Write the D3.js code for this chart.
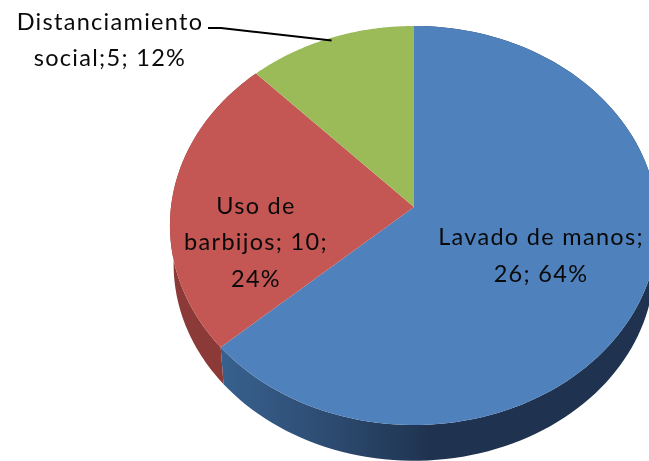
<!DOCTYPE html>
<html><head><meta charset="utf-8">
<script src="https://cdn.jsdelivr.net/npm/d3@7/dist/d3.min.js"></script>
<style>html,body{margin:0;background:#fff;overflow:hidden}svg{display:block;filter:blur(0.45px)}text{font-family:Lato,"Open Sans",sans-serif;font-size:23.5px;letter-spacing:1.3px;fill:#0a0a0a;text-anchor:middle}</style>
</head><body><svg id="c" width="649" height="461"></svg>
<script>
const categories = ["Lavado de manos", "Uso de barbijos", "Distanciamiento social"];
const values = [26, 10, 5];
const percents = ["64%", "24%", "12%"];
const topColors = ["#4F81BD", "#C45653", "#9BBB59"];
const labelLines = [["Lavado de manos;", "26; 64%"], ["Uso de", "barbijos; 10;", "24%"], ["Distanciamiento", "social;5; 12%"]];
const labelPos = [[541, 245], [256, 213.5], [110, 29.5]];

const svg = d3.select("#c");
const cx = 414, cy = 207, depth = 39, k = 0.0927, A = 197.8, B = 243;
const arcs = d3.pie().value(d => d).sort(null)(values);

function proj(a, shrink, dy) {
  const u = Math.sin(a), v = Math.cos(a), w = 1 + k * v;
  return [cx + shrink * B * u / w, cy + dy - shrink * A * v / w];
}
const line = d3.line();
function rim(a0, a1, s, dy) {
  return d3.range(0, 121).map(i => proj(a0 + (a1 - a0) * i / 120, s, dy));
}
const defs = svg.append("defs");
const g1 = defs.append("linearGradient").attr("id", "blueWall").attr("gradientUnits", "userSpaceOnUse")
  .attr("x1", 220).attr("x2", 430).attr("y1", 0).attr("y2", 0);
g1.append("stop").attr("offset", 0).attr("stop-color", "#38618F");
g1.append("stop").attr("offset", 0.55).attr("stop-color", "#2C4A6F");
g1.append("stop").attr("offset", 1).attr("stop-color", "#1F3350");

const s2 = 0.985;
const wallFill = ["url(#blueWall)", "#8C3A38", "#7a9445"];
arcs.forEach((d, i) => {
  const a0 = d.startAngle, a1 = d.endAngle;
  const pts = rim(a0, a1, 1, 0).concat(rim(a0, a1, s2, depth).reverse());
  if (i < 2) svg.append("path").attr("d", line(pts) + "Z").attr("fill", wallFill[i]);
});
arcs.forEach((d, i) => {
  const pts = [proj(0, 0, 0)].concat(rim(d.startAngle, d.endAngle, 1, 0));
  svg.append("path").attr("d", line(pts) + "Z").attr("fill", topColors[i]);
});
const mid = (arcs[2].startAngle + arcs[2].endAngle) / 2;
const leaderEnd = proj(mid, 0.985, 0);
svg.append("path").attr("d", line([[208, 28], [221, 28], leaderEnd]))
  .attr("fill", "none").attr("stroke", "#000").attr("stroke-width", 2);
labelLines.forEach((ls, i) => {
  const [x, y] = labelPos[i];
  ls.forEach((t, j) => svg.append("text").attr("x", x).attr("y", y + j * 36.8).text(t));
});
</script></body></html>
